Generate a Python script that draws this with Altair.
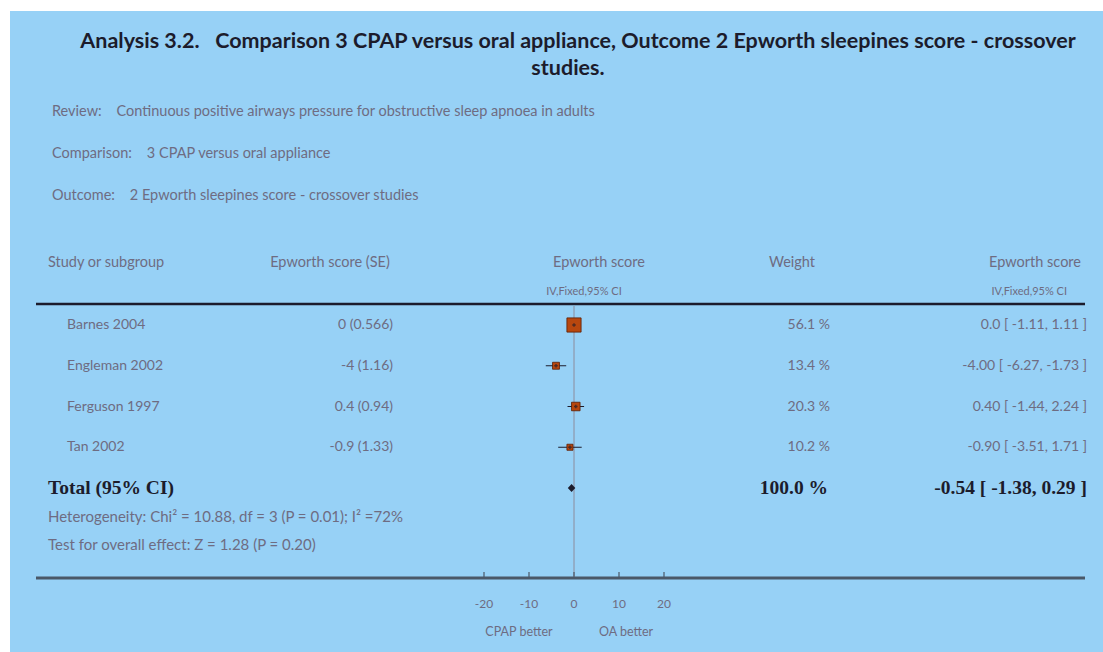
import altair as alt
import pandas as pd

# ---- data ----
studies = ["Barnes 2004", "Engleman 2002", "Ferguson 1997", "Tan 2002"]
score_se_labels = ["0 (0.566)", "-4 (1.16)", "0.4 (0.94)", "-0.9 (1.33)"]
estimates = [0.0, -4.0, 0.4, -0.9]
ci_low = [-1.11, -6.27, -1.44, -3.51]
ci_high = [1.11, -1.73, 2.24, 1.71]
weights = [56.1, 13.4, 20.3, 10.2]
weight_labels = ["56.1 %", "13.4 %", "20.3 %", "10.2 %"]
ci_labels = ["0.0 [ -1.11, 1.11 ]", "-4.00 [ -6.27, -1.73 ]",
             "0.40 [ -1.44, 2.24 ]", "-0.90 [ -3.51, 1.71 ]"]

total_est = -0.54
total_low = -1.38
total_high = 0.29
total_weight_label = "100.0 %"
total_ci_label = "-0.54\u00a0[\u00a0-1.38, 0.29\u00a0]"

tick_values = [-20, -10, 0, 10, 20]
tick_labels = ["-20", "-10", "0", "10", "20"]

NB = "\u00a0"

# ---- layout helpers (reference pixel -> plot pixel) ----
OX, OY = 10, 11
def px(x):
    return x - OX
def py(y):
    return y - OY

W, H = 1093, 641
BG = "#97D1F6"
GRAY = "#6E6C82"
DARK = "#1C1C2C"
SQUARE = "#B8470E"
SANS = "Lato"
SERIF = "Liberation Serif"

xs = alt.Scale(domain=[-564 / 4.5, (W - 564) / 4.5], nice=False, zero=False)
ys = alt.Scale(domain=[-314 / 40.75, (H - 314) / 40.75], nice=False, zero=False, reverse=True)

rows = pd.DataFrame({
    "study": studies, "se": score_se_labels, "est": estimates,
    "lo": ci_low, "hi": ci_high, "w": weights,
    "wlab": weight_labels, "cilab": ci_labels, "row": list(range(len(studies))),
})
total_row = len(studies)
diamond = pd.DataFrame({
    "x": [total_low, total_est, total_high],
    "y": [total_row, total_row - 0.1, total_row],
    "y2": [total_row, total_row + 0.1, total_row],
})
total_df = pd.DataFrame({"row": [total_row], "wlab": [total_weight_label],
                         "cilab": [total_ci_label]})
ticks_df = pd.DataFrame({"t": tick_values, "lab": tick_labels})
zero_df = pd.DataFrame({"z": [0]})

def static_text(txt, x, y, align="left", size=14, color=GRAY, weight="normal", font=SANS):
    return alt.Chart(pd.DataFrame({"t": [txt]})).mark_text(
        align=align, baseline="middle", fontSize=size, color=color,
        fontWeight=weight, font=font
    ).encode(text="t:N", x=alt.value(px(x)), y=alt.value(py(y)))

layers = []

# titles
layers.append(static_text(
    "Analysis 3.2." + NB * 3 + "Comparison 3 CPAP versus oral appliance, Outcome 2 Epworth sleepines score - crossover",
    578, 42, align="center", size=21.5, color=DARK, weight="bold"))
layers.append(static_text("studies.", 568, 69, align="center", size=21.5, color=DARK, weight="bold"))
layers.append(static_text("Review:" + NB * 4 + "Continuous positive airways pressure for obstructive sleep apnoea in adults", 52, 112, size=14.5))
layers.append(static_text("Comparison:" + NB * 4 + "3 CPAP versus oral appliance", 52, 154, size=14.5))
layers.append(static_text("Outcome:" + NB * 4 + "2 Epworth sleepines score - crossover studies", 52, 196, size=14.5))

# headers
HS = 14.5
layers.append(static_text("Study or subgroup", 48, 263, size=HS))
layers.append(static_text("Epworth score (SE)", 330, 263, align="center", size=HS))
layers.append(static_text("Epworth score", 599, 263, align="center", size=HS))
layers.append(static_text("Weight", 792, 263, align="center", size=HS))
layers.append(static_text("Epworth score", 1081, 263, align="right", size=HS))
layers.append(static_text("IV,Fixed,95% CI", 584, 292, align="center", size=11))
layers.append(static_text("IV,Fixed,95% CI", 1067, 292, align="right", size=11))

# top separator and bottom axis line
layers.append(alt.Chart(zero_df).mark_rule(color=DARK, strokeWidth=2.5).encode(
    x=alt.value(px(36)), x2=alt.value(px(1085)), y=alt.value(py(304))))
layers.append(alt.Chart(zero_df).mark_rule(color="#4A5868", strokeWidth=3).encode(
    x=alt.value(px(36)), x2=alt.value(px(1085)), y=alt.value(py(578))))

# zero line
layers.append(alt.Chart(zero_df).mark_rule(color="#8C8C9C", strokeWidth=1).encode(
    x=alt.X("z:Q", scale=xs, axis=None), y=alt.value(py(306)), y2=alt.value(py(577))))

# ticks and labels
layers.append(alt.Chart(ticks_df).mark_rule(color="#4A5868", strokeWidth=1.2).encode(
    x=alt.X("t:Q", scale=xs, axis=None), y=alt.value(py(572)), y2=alt.value(py(578))))
layers.append(alt.Chart(ticks_df).mark_text(fontSize=12, color=GRAY, font=SANS, baseline="middle").encode(
    x=alt.X("t:Q", scale=xs, axis=None), y=alt.value(py(604)), text="lab:N"))
layers.append(static_text("CPAP better", 519, 632, align="center", size=12.5))
layers.append(static_text("OA better", 626, 632, align="center", size=12.5))

# study rows text
base = alt.Chart(rows)
RS = 14
layers.append(base.mark_text(align="left", baseline="middle", fontSize=RS, color=GRAY, font=SANS).encode(
    x=alt.value(px(67)), y=alt.Y("row:Q", scale=ys, axis=None), text="study:N"))
layers.append(base.mark_text(align="right", baseline="middle", fontSize=RS, color=GRAY, font=SANS).encode(
    x=alt.value(px(393)), y=alt.Y("row:Q", scale=ys, axis=None), text="se:N"))
layers.append(base.mark_text(align="right", baseline="middle", fontSize=RS, color=GRAY, font=SANS).encode(
    x=alt.value(px(830)), y=alt.Y("row:Q", scale=ys, axis=None), text="wlab:N"))
layers.append(base.mark_text(align="right", baseline="middle", fontSize=RS, color=GRAY, font=SANS).encode(
    x=alt.value(px(1087)), y=alt.Y("row:Q", scale=ys, axis=None), text="cilab:N"))

# CI lines and squares
layers.append(base.mark_rule(color=DARK, strokeWidth=1).encode(
    x=alt.X("lo:Q", scale=xs, axis=None), x2="hi:Q", y=alt.Y("row:Q", scale=ys, axis=None)))
layers.append(base.mark_square(color=SQUARE, opacity=1, stroke="#5A1E05", strokeWidth=0.8).encode(
    x=alt.X("est:Q", scale=xs, axis=None), y=alt.Y("row:Q", scale=ys, axis=None),
    size=alt.Size("w:Q", scale=alt.Scale(domain=[0, 100], range=[0, 360], zero=True), legend=None)))
layers.append(base.mark_point(shape="cross", color=DARK, filled=True, size=12).encode(
    x=alt.X("est:Q", scale=xs, axis=None), y=alt.Y("row:Q", scale=ys, axis=None)))

# total
layers.append(alt.Chart(diamond).mark_area(color=DARK, opacity=1).encode(
    x=alt.X("x:Q", scale=xs, axis=None), y=alt.Y("y:Q", scale=ys, axis=None), y2="y2:Q"))
layers.append(static_text("Total (95% CI)", 48, 488, size=19.5, color=DARK, weight="bold", font=SERIF))
layers.append(alt.Chart(total_df).mark_text(align="right", baseline="middle", fontSize=19.5, color=DARK,
                                            fontWeight="bold", font=SERIF).encode(
    x=alt.value(px(828)), y=alt.Y("row:Q", scale=ys, axis=None), text="wlab:N"))
layers.append(alt.Chart(total_df).mark_text(align="right", baseline="middle", fontSize=19.5, color=DARK,
                                            fontWeight="bold", font=SERIF).encode(
    x=alt.value(px(1087)), y=alt.Y("row:Q", scale=ys, axis=None), text="cilab:N"))
layers.append(static_text("Heterogeneity: Chi² = 10.88, df = 3 (P = 0.01); I² =72%", 48, 517, size=15))
layers.append(static_text("Test for overall effect: Z = 1.28 (P = 0.20)", 48, 545, size=15))

chart = alt.layer(*layers).properties(
    width=W, height=H,
    autosize=alt.AutoSizeParams(type="none"),
    padding={"left": OX, "top": OY, "right": 0, "bottom": 0},
    background="white",
).configure_view(fill=BG, stroke=None)

chart.save("out.html", embed_options={"renderer": "svg", "actions": False})
